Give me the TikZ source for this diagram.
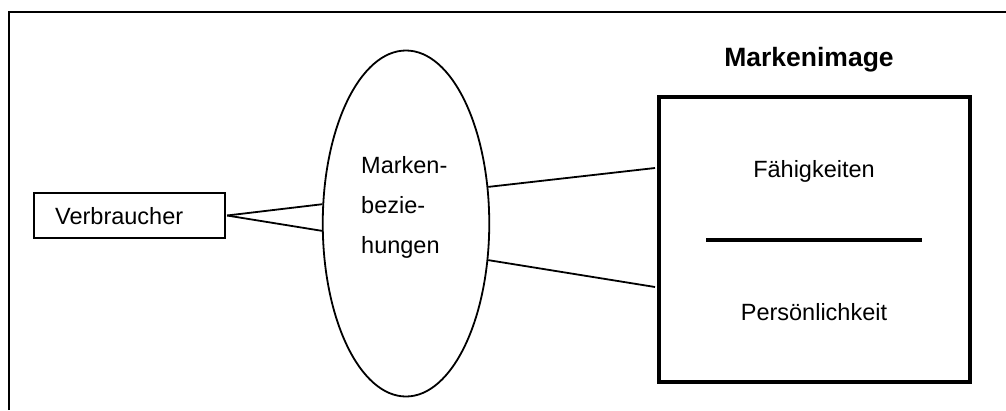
\documentclass[tikz,border=0pt]{standalone}
\usepackage{fontspec}
\setmainfont{Liberation Sans}
\usetikzlibrary{shapes.geometric}
\begin{document}
\begin{tikzpicture}[x=1pt,y=-1pt,
  txt/.style={inner sep=0pt,font=\fontsize{23.5}{28}\selectfont},
  ttl/.style={inner sep=0pt,font=\fontsize{26.5}{32}\selectfont\bfseries},
  conn/.style={line width=1.8pt}]
\useasboundingbox (0,0) rectangle (1006,410);
\draw[line width=2pt] (9,410) -- (9,12) -- (1006,12);
% Verbraucher
\node[draw,line width=1.6pt,minimum width=191.5pt,minimum height=45.5pt,inner sep=0pt] (verb) at (129.5,215.5) {};
\node[txt,anchor=base west] (verbt) at (55,224) {Verbraucher};
% ellipse
\node[draw,ellipse,line width=1.8pt,minimum width=166.5pt,minimum height=346pt,inner sep=0pt] (ell) at (406,223.5) {};
\node[txt,anchor=base west] (m1) at (361,173) {Marken-};
\node[txt,anchor=base west] (m2) at (361,213) {bezie-};
\node[txt,anchor=base west] (m3) at (361,253) {hungen};
% image box
\node[draw,line width=4pt,minimum width=311pt,minimum height=285pt,inner sep=0pt] (img) at (814.5,239.5) {};
\node[ttl,anchor=base] (title) at (809,66) {Markenimage};
\node[txt,anchor=base] (f) at (814,177) {Fähigkeiten};
\node[txt,anchor=base] (p) at (814,320) {Persönlichkeit};
\coordinate (dl) at (706,240);
\coordinate (dr) at (922,240);
\draw[line width=4pt] (dl) -- (dr);
% connectors
\draw[conn] ([xshift=1pt]verb.east) -- (ell.167.5);
\draw[conn] ([xshift=1pt]verb.east) -- (ell.185.1);
\draw[conn] (ell.24.6) -- ([yshift=71.5pt,xshift=-2pt]img.west);
\draw[conn] (ell.-24) -- ([yshift=-47.5pt,xshift=-2pt]img.west);
\end{tikzpicture}
\end{document}
